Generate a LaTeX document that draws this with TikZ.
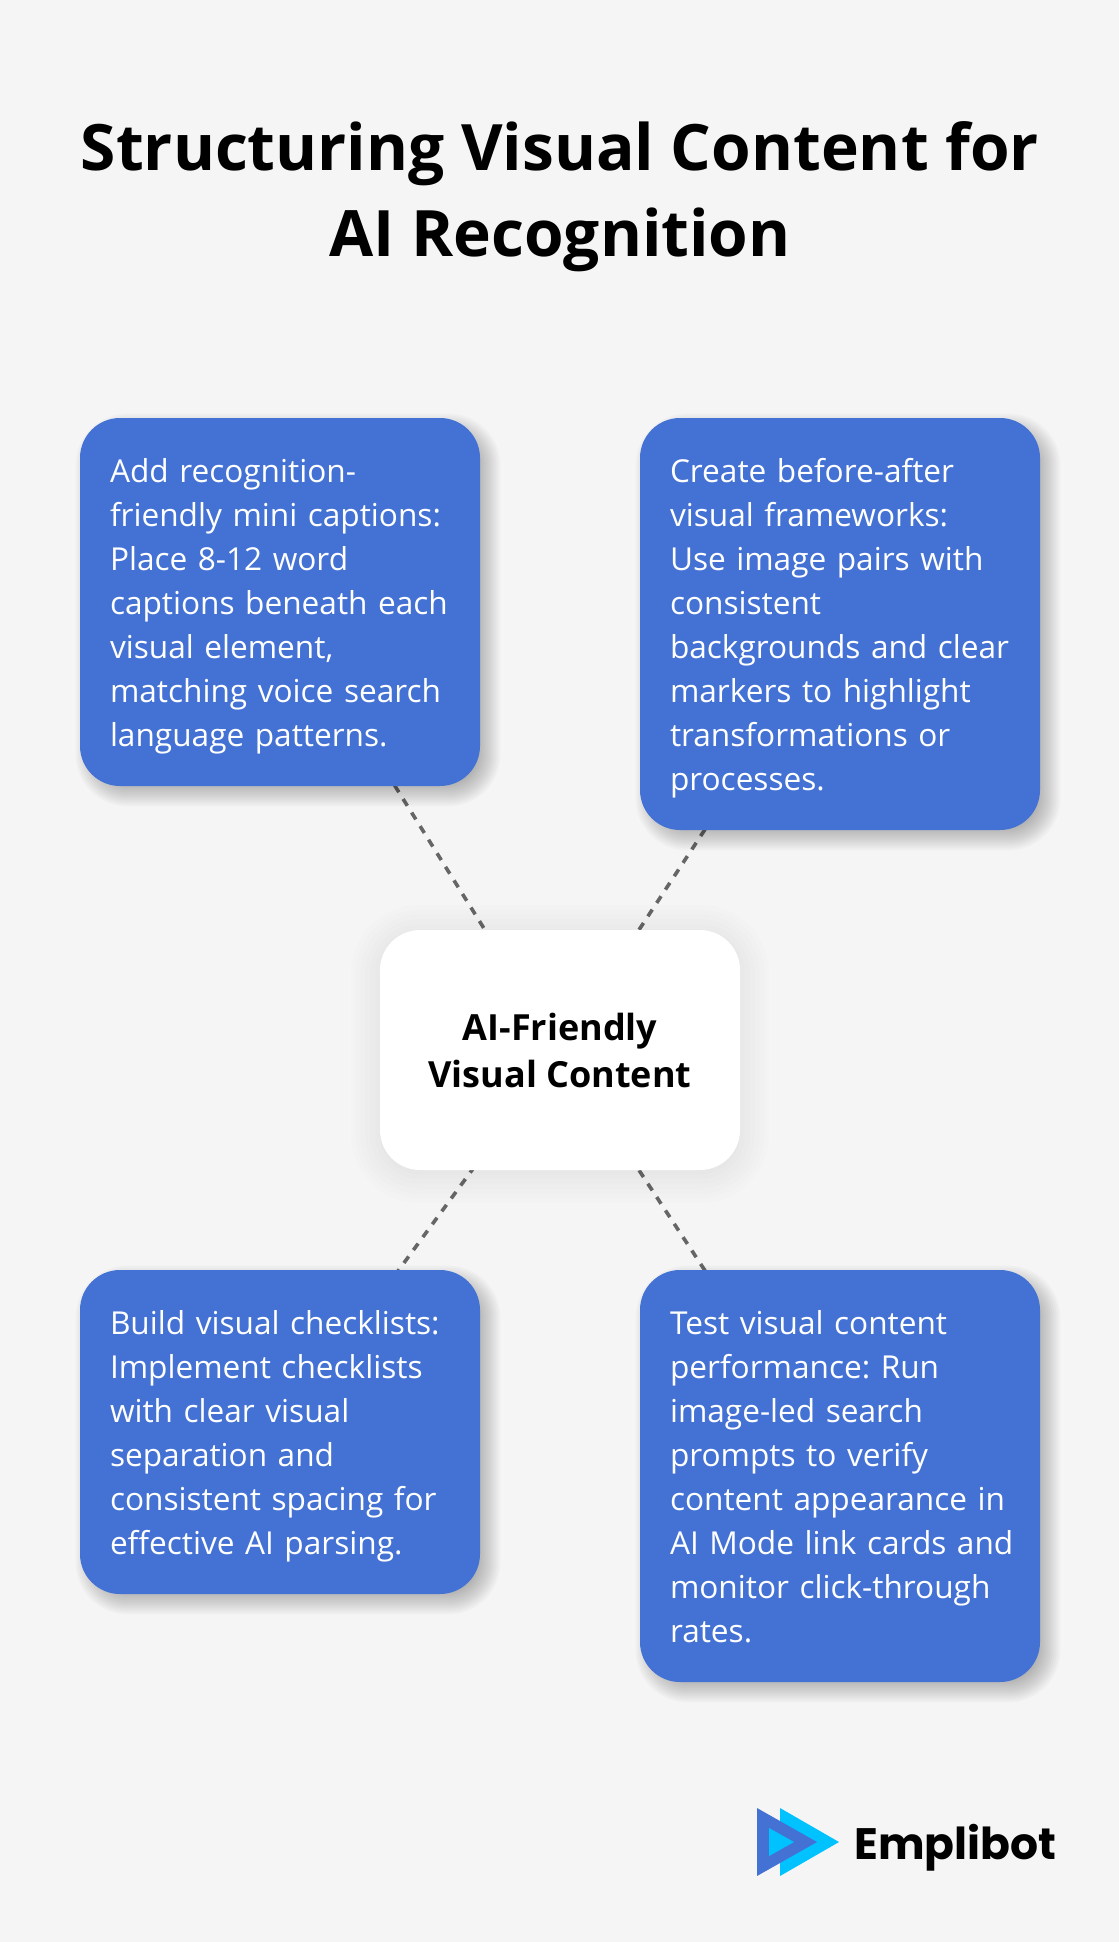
\documentclass[tikz,border=0pt]{standalone}
\usepackage{fontspec}
\setmainfont{Open Sans}
\newfontfamily\logofont{Poppins}
\usetikzlibrary{backgrounds}
\usetikzlibrary{calc}
\definecolor{paper}{HTML}{F5F5F5}
\definecolor{cardblue}{HTML}{4472D4}
\definecolor{logocyan}{HTML}{00C2FF}
\definecolor{linkgray}{HTML}{666666}
\tikzset{
  headline/.style={font=\fontsize{32}{43}\selectfont\bfseries,align=center,inner sep=0pt},
  card/.style={fill=cardblue,text=white,rounded corners=20pt,minimum width=200pt,
    inner sep=0pt,text width=176pt,text height=16pt,align=left,
    font=\fontsize{15.8}{22}\selectfont\frenchspacing,
    execute at begin node={\leftskip=3pt\relax},
    execute at end node={\rule[-4pt]{0pt}{1pt}}},
  hub/.style={fill=white,text=black,rounded corners=20pt,minimum width=180pt,minimum height=120pt,
    inner sep=0pt,align=center,font=\fontsize{18}{23.5}\selectfont\bfseries},
  link/.style={color=linkgray,line width=1.8pt,dash pattern=on 4pt off 4pt}
}
\newcommand{\softshadow}[5]{%
  \foreach \r [evaluate=\r as \d using \r*#5] in {-6,-5,...,6}%
    \fill[black,opacity=#4,rounded corners={20pt+\d pt}]
      ($(#1.north west)+(#2-\d pt,#3+\d pt)$)
      rectangle
      ($(#1.south east)+(#2+\d pt,#3-\d pt)$);%
}
\begin{document}
\begin{tikzpicture}[x=0.5pt,y=-0.5pt]
  \useasboundingbox (0,0) rectangle (1118.5,1942);
  \node[headline] (t1) at (560,154) {Structuring Visual Content for};
  \node[headline] (t2) at (560,240) {AI Recognition};
  \node[hub] (c0) at (560,1050) {AI-Friendly\\Visual Content};
  \node[card,minimum height=184pt] (c1) at (280,602)
    {Add recognition-\\friendly mini captions:\\Place 8-12 word\\captions beneath each\\visual element,\\matching voice search\\language patterns.};
  \node[card,minimum height=206pt] (c2) at (840,624)
    {Create before-after\\visual frameworks:\\Use image pairs with\\consistent\\backgrounds and clear\\markers to highlight\\transformations or\\processes.};
  \node[card,minimum height=162pt] (c3) at (280,1432)
    {Build visual checklists:\\Implement checklists\\with clear visual\\separation and\\consistent spacing for\\effective AI parsing.};
  \node[card,minimum height=206pt] (c4) at (840,1476)
    {Test visual content\\performance: Run\\image-led search\\prompts to verify\\content appearance in\\AI Mode link cards and\\monitor click-through\\rates.};
  \begin{scope}[on background layer]
    \fill[color=paper]
      (0,0)
      rectangle
      (1120,1942);
    \draw[link]
      (c0.center)
      --
      (c1.center);
    \draw[link]
      (c0.center)
      --
      (c2.center);
    \draw[link]
      (c0.center)
      --
      (c3.center);
    \draw[link]
      (c0.center)
      --
      (c4.center);
    \softshadow{c0}{0pt}{-2pt}{0.008}{2.4}
    \softshadow{c1}{4pt}{-4pt}{0.025}{1}
    \softshadow{c2}{4pt}{-4pt}{0.025}{1}
    \softshadow{c3}{4pt}{-4pt}{0.025}{1}
    \softshadow{c4}{4pt}{-4pt}{0.025}{1}
  \end{scope}
  \coordinate (l1) at (780,1808);
  \coordinate (l2) at (839,1842);
  \coordinate (l3) at (780,1876);
  \coordinate (l4) at (757,1808);
  \coordinate (l5) at (817,1842);
  \coordinate (l6) at (757,1876);
  \coordinate (l7) at (769,1828);
  \coordinate (l8) at (794,1842);
  \coordinate (l9) at (769,1856);
  \fill[color=logocyan]
    (l1)
    --
    (l2)
    --
    (l3)
    --
    cycle;
  \fill[color=cardblue]
    (l4)
    --
    (l5)
    --
    (l6)
    --
    cycle;
  \fill[color=logocyan]
    (l7)
    --
    (l8)
    --
    (l9)
    --
    cycle;
  \node[anchor=base west,inner sep=0pt,font=\logofont\fontsize{22}{22}\selectfont\bfseries] (logo) at (854,1859) {Emplibot};
\end{tikzpicture}
\end{document}
